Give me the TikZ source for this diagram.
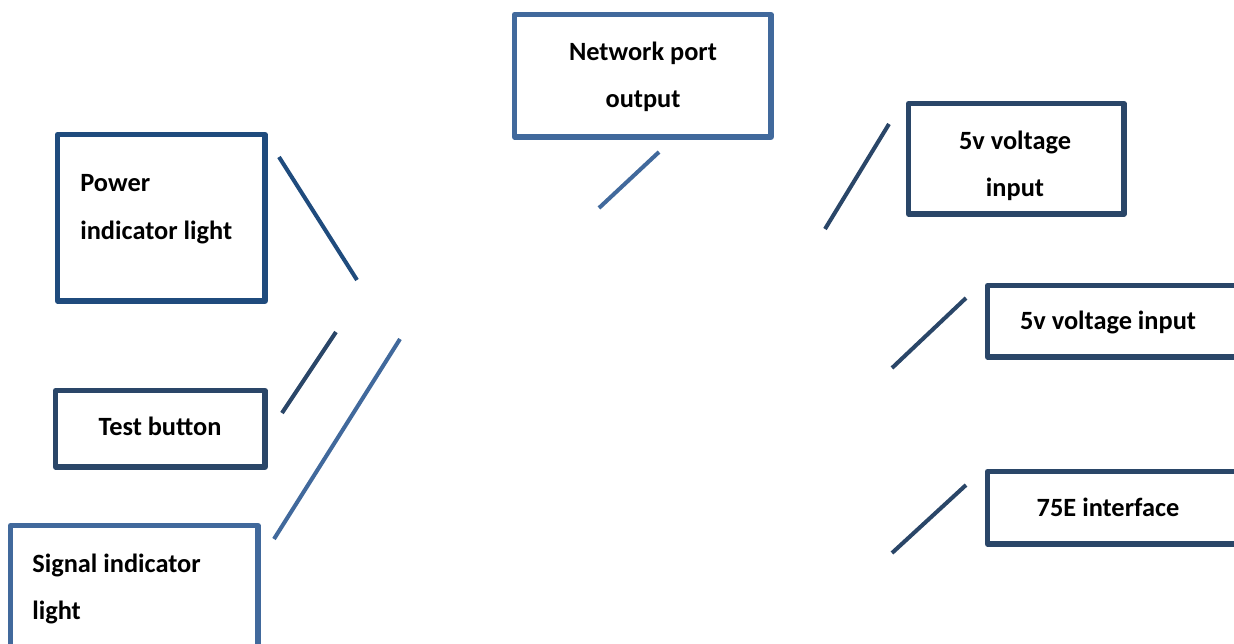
\documentclass[tikz,border=0pt]{standalone}
\usepackage{fontspec}
\setmainfont{Carlito}
\usetikzlibrary{positioning}
\definecolor{power}{HTML}{1F4B7D}
\definecolor{navy}{HTML}{2A4668}
\definecolor{steel}{HTML}{41699C}
\tikzset{
  box/.style={draw=#1, line width=2.9pt, line join=round},
  lead/.style={draw=#1, line width=2.3pt},
  lab/.style={font=\fontsize{15}{27}\selectfont\bfseries, align=#1, inner sep=0pt},
  lab/.default=center
}

\begin{document}
\begin{tikzpicture}[x=0.02cm,y=-0.02cm]
  \useasboundingbox (0,0) rectangle (1234,643);
  \clip (0,0) rectangle (1234,643);
  % boxes
  \draw[box=power] (57.5,134.5) rectangle (265,301);
  \node[lab=left, anchor=west] (power) at (80,209) {Power\\indicator light};
  \draw[box=navy] (55.5,390.5) rectangle (265,467);
  \node[lab] (test) at (160,426) {Test button};
  \draw[box=steel] (10.5,525.5) rectangle (258,660);
  \node[lab=left, anchor=west] (signal) at (32,589) {Signal indicator\\light};
  \draw[box=steel] (514.5,14.5) rectangle (771,137);
  \node[lab] (network) at (643,77) {Network port\\output};
  \draw[box=navy] (908.5,103.5) rectangle (1124,214);
  \node[lab] (fiveA) at (1015,166) {5v voltage\\input};
  \draw[box=navy] (987.5,285.5) rectangle (1250,357);
  \node[lab] (fiveB) at (1108,322) {5v voltage input};
  \draw[box=navy] (987.5,471.5) rectangle (1250,544);
  \node[lab] (iface) at (1108,507) {75E interface};
  % leader lines
  \coordinate (p1) at (279,157);  \coordinate (p2) at (357,280);
  \coordinate (t1) at (336,332);  \coordinate (t2) at (282,413);
  \coordinate (s1) at (400,339);  \coordinate (s2) at (274,539);
  \coordinate (n1) at (659,152);  \coordinate (n2) at (599,208);
  \coordinate (a1) at (889,124);  \coordinate (a2) at (825,229);
  \coordinate (b1) at (966,298);  \coordinate (b2) at (892,368);
  \coordinate (c1) at (966,485);  \coordinate (c2) at (892,553);
  \draw[lead=power] (p1) -- (p2);
  \draw[lead=navy] (t1) -- (t2);
  \draw[lead=steel] (s1) -- (s2);
  \draw[lead=steel] (n1) -- (n2);
  \draw[lead=navy] (a1) -- (a2);
  \draw[lead=navy] (b1) -- (b2);
  \draw[lead=navy] (c1) -- (c2);
\end{tikzpicture}
\end{document}
